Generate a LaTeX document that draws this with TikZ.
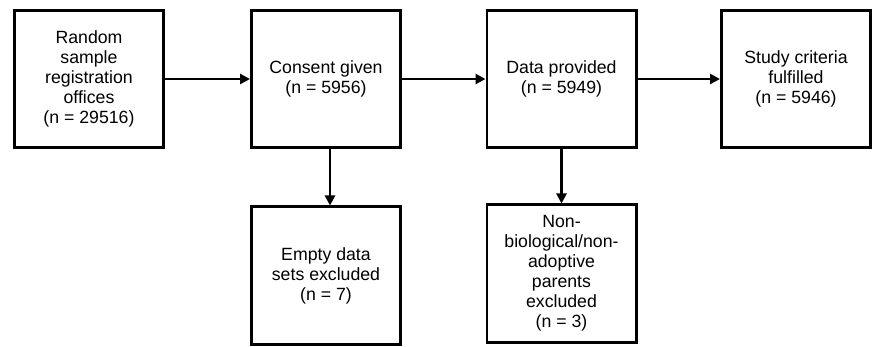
\documentclass[tikz,border=0pt]{standalone}
\usepackage{fontspec}
\setmainfont{Liberation Sans}
\usetikzlibrary{arrows.meta}

\begin{document}
\begin{tikzpicture}[x=1pt,y=-1pt,
  box/.style={draw,line width=2.6pt,minimum width=149.4pt,minimum height=137.4pt,
    inner sep=0pt,align=center,font=\fontsize{17.7}{20}\selectfont},
  flow/.style={->,line width=2.6pt},
  >={Triangle[length=10pt,width=10pt]}]
\useasboundingbox (0,0) rectangle (872,347);
% top row
\node[box] (sample) at (89,79) {Random\\sample\\registration\\offices\\(n = 29516)};
\node[box] (consent) at (326,79) {Consent given\\(n = 5956)};
\node[box] (data) at (561.5,79) {Data provided\\(n = 5949)};
\node[box] (study) at (796,79) {Study criteria\\fulfilled\\(n = 5946)};
% exclusions
\node[box] (empty) at (326,275.5) {Empty data\\sets excluded\\(n = 7)};
\node[box] (nonbio) at (561.5,273.5) {Non-\\biological/non-\\adoptive\\parents\\excluded\\(n = 3)};
% arrows
\draw[flow] (sample) -- (consent);
\draw[flow] (consent) -- (data);
\draw[flow] (data) -- (study);
\draw[flow] ([xshift=4pt]consent.south) -- ([xshift=4pt]empty.north);
\draw[flow] (data) -- (nonbio);
\end{tikzpicture}
\end{document}
